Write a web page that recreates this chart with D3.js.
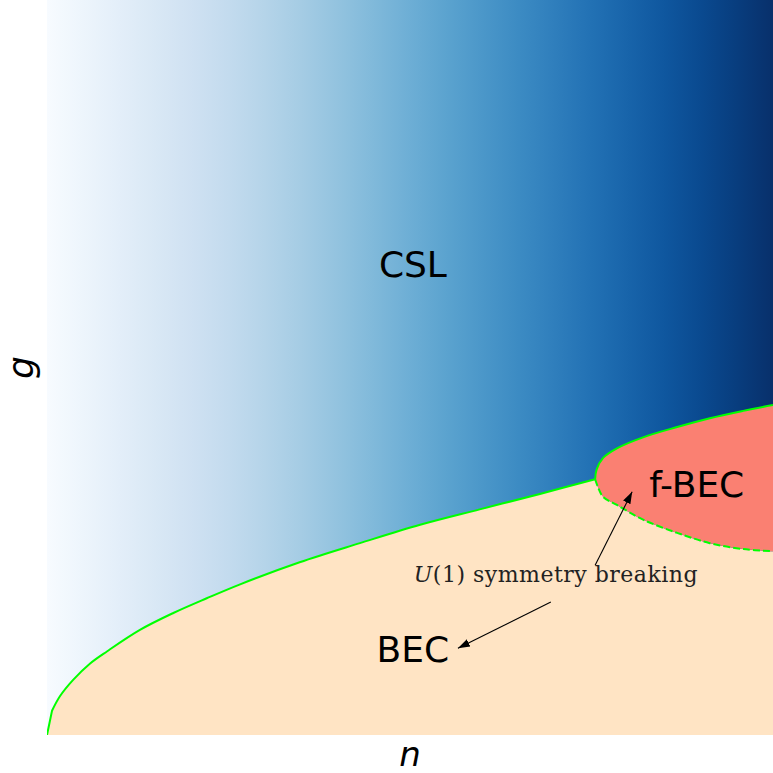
<!DOCTYPE html>
<html>
<head>
<meta charset="utf-8">
<script src="https://cdn.jsdelivr.net/npm/d3@7"></script>
<style>
  html, body { margin: 0; padding: 0; background: #fff; }
  svg { display: block; }
</style>
</head>
<body>
<svg id="chart" width="773" height="773"></svg>
<script>
// BEC / CSL phase boundary (n, g)
var becN = [0, 0.0069, 0.018, 0.036, 0.059, 0.083, 0.128, 0.174, 0.220, 0.266, 0.348, 0.431, 0.514, 0.596, 0.679, 0.755];
var becG = [0, 0.033, 0.053, 0.075, 0.097, 0.114, 0.143, 0.166, 0.186, 0.205, 0.235, 0.261, 0.286, 0.307, 0.328, 0.348];

// f-BEC lobe, upper (solid) and lower (dashed) branch, from the tip outwards
var upperN = [0.755, 0.757, 0.766, 0.785, 0.821, 0.868, 0.913, 0.959, 1.0];
var upperG = [0.348, 0.361, 0.377, 0.390, 0.405, 0.419, 0.431, 0.441, 0.449];
var lowerN = [0.755, 0.759, 0.766, 0.785, 0.821, 0.868, 0.913, 0.959, 1.0];
var lowerG = [0.348, 0.337, 0.324, 0.313, 0.293, 0.275, 0.261, 0.253, 0.250];

// phase labels
var phaseNames = ["CSL", "f-BEC", "BEC"];
var phaseN = [0.504, 0.895, 0.504];
var phaseG = [0.623, 0.324, 0.099];

// annotation
var noteN = 0.701, noteG = 0.208;
var arrowFromN = [0.755, 0.694];
var arrowFromG = [0.231, 0.181];
var arrowToN = [0.806, 0.566];
var arrowToG = [0.331, 0.118];

var margin = {top: 0, right: 0, bottom: 38, left: 47};
var width = 773 - margin.left - margin.right;
var height = 773 - margin.top - margin.bottom;

var svg = d3.select('#chart');
var x = d3.scaleLinear().domain([0, 1]).range([0, width]);
var y = d3.scaleLinear().domain([0, 1]).range([height, 0]);

var zip = function(a, b){ return a.map(function(v, i){ return [v, b[i]]; }); };
var bec = zip(becN, becG);
var upper = zip(upperN, upperG);
var lower = zip(lowerN, lowerG);

var line = d3.line()
  .x(function(d){ return x(d[0]); })
  .y(function(d){ return y(d[1]); })
  .curve(d3.curveCatmullRom.alpha(0.5));

// first step off the origin is a straight kink, the rest is smooth
var becPath = 'M' + x(bec[0][0]) + ',' + y(bec[0][1]) + line(bec.slice(1)).replace(/^M/, 'L');

// Blues colormap running along n
var defs = svg.append('defs');
var grad = defs.append('linearGradient').attr('id', 'blues')
  .attr('x1', '0%').attr('x2', '100%').attr('y1', '0%').attr('y2', '0%');
d3.range(0, 1.0001, 0.05).forEach(function(t){
  grad.append('stop').attr('offset', (t * 100) + '%').attr('stop-color', d3.interpolateBlues(t));
});
defs.append('clipPath').attr('id', 'plot-clip')
  .append('rect').attr('width', width).attr('height', height);

var g = svg.append('g').attr('transform', 'translate(' + margin.left + ',' + margin.top + ')');
var plot = g.append('g').attr('clip-path', 'url(#plot-clip)');

plot.append('rect')
  .attr('width', width).attr('height', height)
  .attr('fill', 'url(#blues)');

// BEC region: under the boundary and the lower branch
plot.append('path')
  .attr('d', becPath + line(lower).replace(/^M/, 'L') +
    'L' + x(1) + ',' + y(0) + 'L' + x(0) + ',' + y(0) + 'Z')
  .attr('fill', '#ffe4c4');

// f-BEC lobe
plot.append('path')
  .attr('d', line(upper.slice().reverse()) + line(lower).replace(/^M/, 'L') + 'Z')
  .attr('fill', '#fa8072');

plot.append('path').attr('d', becPath)
  .attr('fill', 'none').attr('stroke', '#00ff00').attr('stroke-width', 2);
plot.append('path').attr('d', line(upper))
  .attr('fill', 'none').attr('stroke', '#00ff00').attr('stroke-width', 2);
plot.append('path').attr('d', line(lower))
  .attr('fill', 'none').attr('stroke', '#00ff00').attr('stroke-width', 2)
  .attr('stroke-dasharray', '7,3');

// phase names
g.selectAll('text.phase').data(phaseNames)
  .enter().append('text')
  .attr('class', 'phase')
  .attr('x', function(d, i){ return x(phaseN[i]); })
  .attr('y', function(d, i){ return y(phaseG[i]); })
  .attr('text-anchor', 'middle')
  .attr('font-family', 'DejaVu Sans, sans-serif')
  .attr('font-size', 36)
  .attr('fill', '#000')
  .text(function(d){ return d; });

// annotation arrows
defs.append('marker').attr('id', 'head')
  .attr('viewBox', '0 0 10 10').attr('refX', 10).attr('refY', 5)
  .attr('markerWidth', 12).attr('markerHeight', 12)
  .attr('markerUnits', 'userSpaceOnUse').attr('orient', 'auto')
  .append('path').attr('d', 'M0,1.6L10,5L0,8.4Z').attr('fill', '#000');

g.selectAll('line.arrow').data(arrowFromN)
  .enter().append('line')
  .attr('class', 'arrow')
  .attr('x1', function(d){ return x(d); })
  .attr('y1', function(d, i){ return y(arrowFromG[i]); })
  .attr('x2', function(d, i){ return x(arrowToN[i]); })
  .attr('y2', function(d, i){ return y(arrowToG[i]); })
  .attr('stroke', '#000').attr('stroke-width', 1.1)
  .attr('marker-end', 'url(#head)');

var note = g.append('text')
  .attr('x', x(noteN)).attr('y', y(noteG))
  .attr('text-anchor', 'middle')
  .attr('font-family', 'DejaVu Serif, serif')
  .attr('font-size', 22)
  .attr('letter-spacing', 0.5)
  .attr('fill', '#222');
note.append('tspan').attr('font-style', 'italic').text('U');
note.append('tspan').text('(1) symmetry breaking');

// axis labels
g.append('text')
  .attr('x', width / 2).attr('y', height + 31)
  .attr('text-anchor', 'middle')
  .attr('font-family', 'DejaVu Sans, sans-serif')
  .attr('font-style', 'italic')
  .attr('font-size', 34)
  .text('n');

g.append('text')
  .attr('transform', 'translate(' + (-14) + ',' + (height / 2) + ') rotate(-90)')
  .attr('text-anchor', 'middle')
  .attr('font-family', 'DejaVu Sans, sans-serif')
  .attr('font-style', 'italic')
  .attr('font-size', 36)
  .text('g');
</script>
</body>
</html>
